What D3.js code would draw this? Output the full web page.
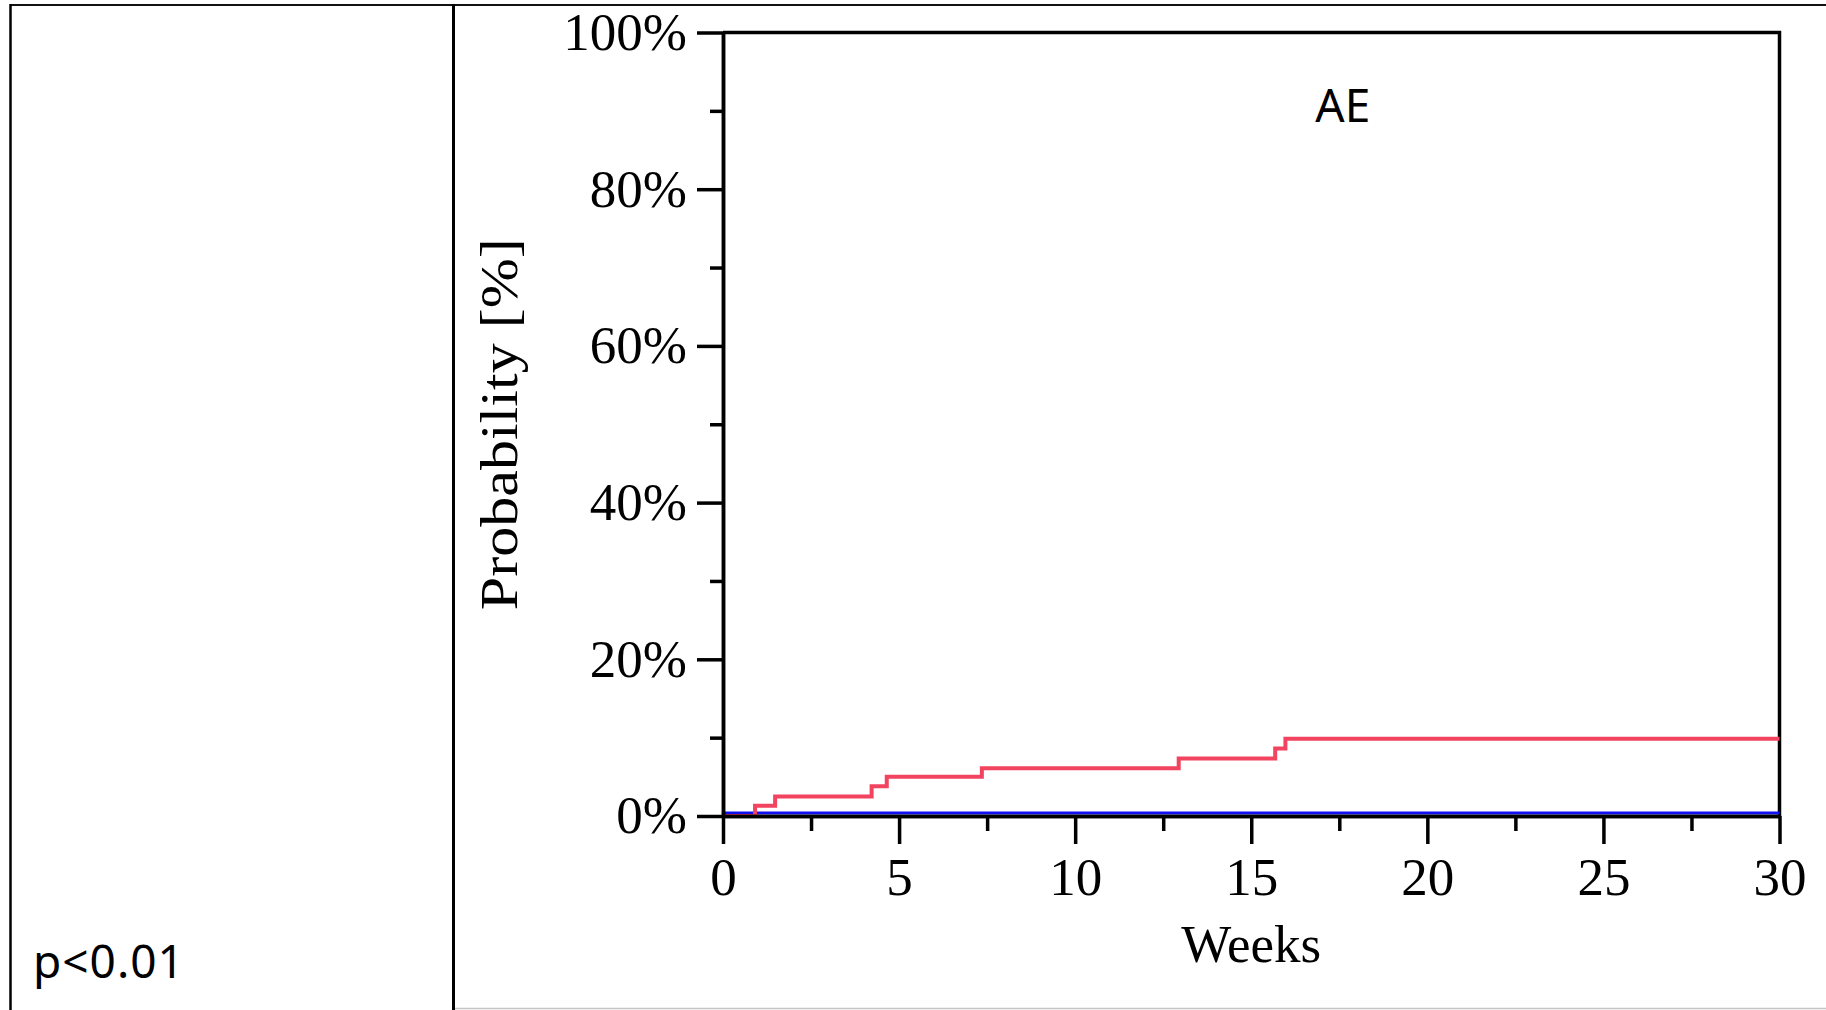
<!DOCTYPE html>
<html>
<head>
<meta charset="utf-8">
<script src="https://cdn.jsdelivr.net/npm/d3@7"></script>
<style>
  html, body { margin: 0; padding: 0; background: #fff; }
  svg { display: block; }
</style>
</head>
<body>
<div id="chart"></div>
<script>
// cumulative probability (%) of AE by week, step changes
const aeWeeks = [0, 0.91, 1.48, 4.22, 4.65, 7.35, 12.94, 15.68, 15.97, 30];
const aeProb = [0, 1.3, 2.5, 3.8, 5.0, 6.1, 7.35, 8.6, 9.85, 9.85];
const ctrlWeeks = [0, 30];
const ctrlProb = [0, 0];

const xMajor = [0, 5, 10, 15, 20, 25, 30];
const xMinor = [2.5, 7.5, 12.5, 17.5, 22.5, 27.5];
const yMajor = [0, 20, 40, 60, 80, 100];
const yMinor = [10, 30, 50, 70, 90];

const W = 1826, H = 1010;
const margin = { top: 32.5, right: 46.5, bottom: 194, left: 723 };
const width = W - margin.left - margin.right,
  height = H - margin.top - margin.bottom;

const svg = d3.select("#chart").append("svg")
  .attr("width", W).attr("height", H);

// table cell borders
svg.append("line").attr("x1", 10).attr("x2", W).attr("y1", 5).attr("y2", 5)
  .attr("stroke", "#111").attr("stroke-width", 2);
svg.append("line").attr("x1", 10.5).attr("x2", 10.5).attr("y1", 4).attr("y2", H)
  .attr("stroke", "#000").attr("stroke-width", 2.5);
svg.append("line").attr("x1", 453.5).attr("x2", 453.5).attr("y1", 4).attr("y2", H)
  .attr("stroke", "#000").attr("stroke-width", 3);
svg.append("line").attr("x1", 455).attr("x2", W).attr("y1", 1008.5).attr("y2", 1008.5)
  .attr("stroke", "#c4c4c4").attr("stroke-width", 1.5);

svg.append("text")
  .attr("x", 33).attr("y", 978)
  .attr("font-family", "'Noto Sans', sans-serif")
  .attr("font-size", 46)
  .attr("letter-spacing", 1)
  .text("p<0.01");

const g = svg.append("g")
  .attr("transform", `translate(${margin.left},${margin.top})`);

const x = d3.scaleLinear().domain([0, 30]).range([0, width]);
const y = d3.scaleLinear().domain([0, 100]).range([height, 0]);

const serif = "'Liberation Serif', 'Times New Roman', serif";

// frame top + right
g.append("path")
  .attr("d", `M0,0H${width}V${height}`)
  .attr("fill", "none").attr("stroke", "#000").attr("stroke-width", 3.5);

// curves
const line = d3.line()
  .x(d => x(d[0]))
  .y(d => y(d[1]))
  .curve(d3.curveStepAfter);

g.append("path")
  .datum(ctrlWeeks.map((w, i) => [w, ctrlProb[i]]))
  .attr("d", line)
  .attr("transform", "translate(0,-3)")
  .attr("fill", "none").attr("stroke", "#1010f0").attr("stroke-width", 3);

g.append("path")
  .datum(aeWeeks.map((w, i) => [w, aeProb[i]]))
  .attr("d", line)
  .attr("fill", "none").attr("stroke", "#f2435f").attr("stroke-width", 4);

// axes
function styleAxis(sel) {
  sel.select(".domain").attr("stroke-width", 3.5);
  sel.selectAll(".tick line").attr("stroke-width", 3.5);
  sel.selectAll("text")
    .attr("font-family", serif)
    .attr("font-size", 53)
    .attr("fill", "#000");
}

g.append("g")
  .attr("transform", `translate(0,${height})`)
  .call(d3.axisBottom(x).tickValues(xMinor).tickSize(15).tickFormat("").tickSizeOuter(0))
  .call(styleAxis);
g.append("g")
  .attr("transform", `translate(0,${height})`)
  .call(d3.axisBottom(x).tickValues(xMajor).tickSize(28).tickPadding(13).tickSizeOuter(0))
  .call(styleAxis);

g.append("g")
  .call(d3.axisLeft(y).tickValues(yMinor).tickSize(13).tickFormat("").tickSizeOuter(0))
  .call(styleAxis);
g.append("g")
  .call(d3.axisLeft(y).tickValues(yMajor).tickSize(26).tickPadding(10)
    .tickFormat(d => d + "%").tickSizeOuter(0))
  .call(styleAxis);

// labels
g.append("text")
  .attr("x", width / 2).attr("y", 962 - margin.top)
  .attr("text-anchor", "middle")
  .attr("font-family", serif).attr("font-size", 53)
  .text("Weeks");

g.append("text")
  .attr("transform", `translate(${517 - margin.left},${height / 2}) rotate(-90)`)
  .attr("text-anchor", "middle")
  .attr("font-family", serif).attr("font-size", 53)
  .attr("textLength", 372).attr("lengthAdjust", "spacingAndGlyphs")
  .text("Probability [%]");

g.append("text")
  .attr("x", x(17.6)).attr("y", 122 - margin.top)
  .attr("text-anchor", "middle")
  .attr("font-family", "'Noto Sans', sans-serif").attr("font-size", 46)
  .text("AE");
</script>
</body>
</html>
